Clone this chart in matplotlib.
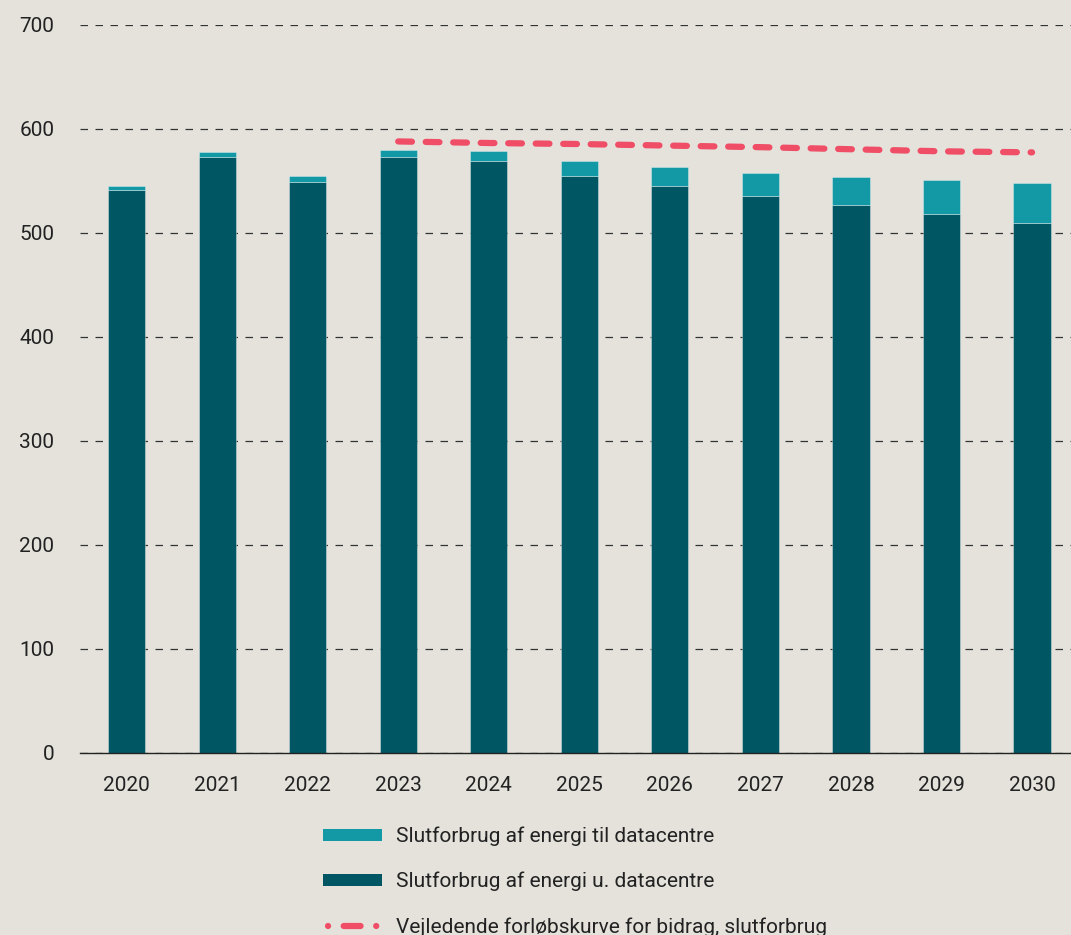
import matplotlib
matplotlib.use("Agg")
import matplotlib.pyplot as plt
from matplotlib.patches import Patch
from matplotlib.lines import Line2D

plt.rcParams['font.family'] = ['Roboto', 'DejaVu Sans']

years = ['2020', '2021', '2022', '2023', '2024', '2025', '2026', '2027', '2028', '2029', '2030']
without_dc = [541, 573, 549, 573, 569, 555, 545, 536, 527, 518, 510]
datacentre = [4, 5, 6, 7, 10, 14, 18, 22, 27, 33, 38.5]
curve_years = ['2023', '2024', '2025', '2026', '2027', '2028', '2029', '2030']
curve = [588, 586.5, 585.5, 584, 582.5, 580.5, 578.5, 577.5]

labels = ['Slutforbrug af energi til datacentre',
          'Slutforbrug af energi u. datacentre',
          'Vejledende forløbskurve for bidrag, slutforbrug']

bg = '#e5e2dc'
dark = '#005662'
light = '#1398a5'
red = '#ef4e66'

fig = plt.figure(figsize=(10.71, 9.35), dpi=100, facecolor=bg)
ax = fig.add_axes([0.0747, 0.1947, 0.9253, 0.7786], facecolor=bg)

x = list(range(len(years)))
w = 0.41
ax.bar(x, without_dc, width=w, color=dark, edgecolor=(1, 1, 1, 0.35), linewidth=0.7, zorder=3)
ax.bar(x, datacentre, width=w, bottom=without_dc, color=light, edgecolor=(1, 1, 1, 0.35), linewidth=0.7, zorder=3)
cx = [years.index(y) for y in curve_years]
ax.plot(cx, curve, color=red, linewidth=4.5, linestyle=(0, (2.2, 2.2)),
        dash_capstyle='round', zorder=4)

ax.set_xlim(-0.514, 10.43)
ax.set_ylim(0, 700)
ax.set_yticks(range(0, 701, 100))
ax.set_xticks(x)
ax.set_xticklabels(years)
ax.tick_params(axis='both', length=0, labelsize=15, colors='#222222')
ax.tick_params(axis='y', pad=18.5)
ax.tick_params(axis='x', pad=16.5)
ax.yaxis.grid(True, linestyle=(0, (6, 6)), color='#333333', linewidth=0.9, zorder=0)
ax.set_axisbelow(True)
for s in ['top', 'right', 'left']:
    ax.spines[s].set_visible(False)
ax.spines['bottom'].set_color('#222222')
ax.spines['bottom'].set_linewidth(1.0)
ax.spines['bottom'].set_zorder(5)

handles = [Patch(facecolor=light, edgecolor='none'),
           Patch(facecolor=dark, edgecolor='none'),
           Line2D([0], [0], color=red, linewidth=4.5,
                  linestyle=(-0.8, (0.01, 2.5, 2.7, 2.5, 0.01, 5.0)), dash_capstyle='round')]
leg = fig.legend(handles, labels, loc='upper left', bbox_to_anchor=(0.284, 0.136),
                 frameon=False, fontsize=15, handlelength=2.83, handleheight=0.5,
                 labelspacing=1.24, handletextpad=0.67, labelcolor='#222222')

fig.savefig('out.png', dpi=100, facecolor=bg)
